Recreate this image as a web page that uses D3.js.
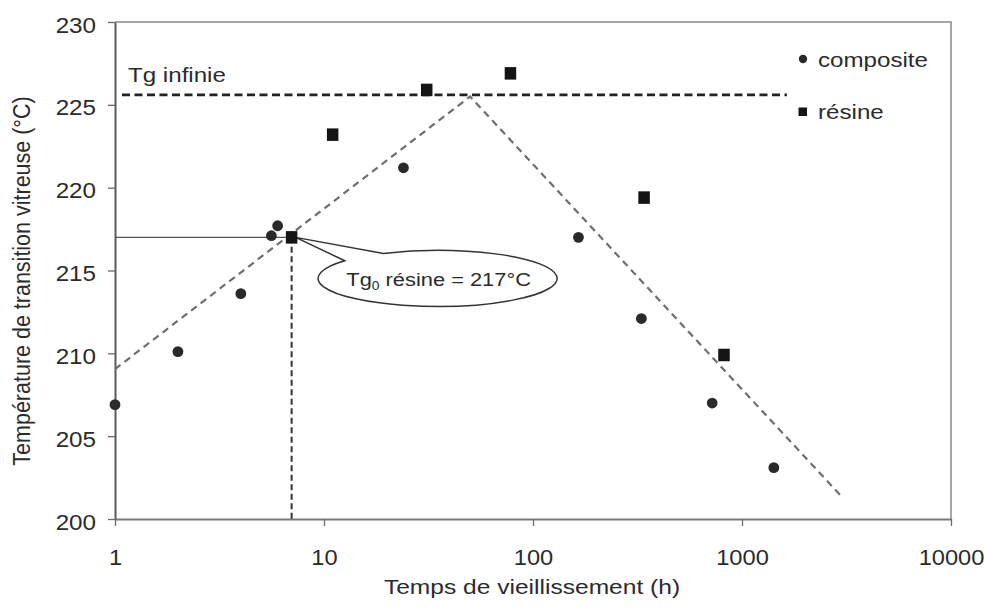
<!DOCTYPE html>
<html>
<head>
<meta charset="utf-8">
<script src="https://cdn.jsdelivr.net/npm/d3@7"></script>
<style>
  body { margin: 0; background: #fff; }
  svg { display: block; font-family: "Liberation Sans", Arial, Helvetica, sans-serif; }
</style>
</head>
<body>
<svg id="chart" width="984" height="610"></svg>
<script>
// Glass transition temperature vs. ageing time (log scale)
const compositeHours = [1, 2, 4, 5.6, 6, 24, 165, 330, 720, 1420];
const compositeTg    = [206.9, 210.1, 213.6, 217.1, 217.7, 221.2, 217.0, 212.1, 207.0, 203.1];

const resineHours = [7, 11, 31, 78, 340, 820];
const resineTg    = [217, 223.2, 225.9, 226.9, 219.4, 209.9];

// Plateau value and its drawn span
const tgInfinie = 225.6;
const tgInfinieHours = [1.08, 1640];

// Rising / falling guide line
const trendHours = [1, 50, 2950];
const trendTg    = [209.05, 225.5, 201.45];

// Initial resin Tg marker
const tg0Hours = 7;
const tg0Resine = 217;

const yTicks = [200, 205, 210, 215, 220, 225, 230];
const xTicks = [1, 10, 100, 1000, 10000];
const xTickLabels = ["1", "10", "100", "1000", "10000"];

const seriesNames = ["composite", "résine"];

const W = 984, H = 610;
const plot = { left: 115, top: 22, right: 951, bottom: 519 };
const textColor = "#2b2b2b";
const SX = 1.15; // horizontal glyph stretch of the typeface

const svg = d3.select("#chart");

const x = d3.scaleLog().domain([1, 10000]).range([plot.left, plot.right]);
const y = d3.scaleLinear().domain([200, 230]).range([plot.bottom, plot.top]);

function label(parent, px, py, txt, size, anchor, sx) {
  return parent.append("text")
    .attr("transform", `translate(${px},${py}) scale(${sx === undefined ? SX : sx},1)`)
    .attr("text-anchor", anchor || "start")
    .attr("font-size", size)
    .attr("fill", textColor)
    .text(txt);
}

// Frame (top and right edges)
svg.append("path")
  .attr("d", `M${plot.left},${plot.top}H${plot.right}V${plot.bottom}`)
  .attr("fill", "none")
  .attr("stroke", "#8a8a8a")
  .attr("stroke-width", 1.5);

// Y axis
const yAxis = svg.append("g")
  .attr("transform", `translate(${plot.left},0)`)
  .call(d3.axisLeft(y).tickValues(yTicks).tickSize(7).tickSizeOuter(0).tickFormat(d3.format("d")));
yAxis.select(".domain").attr("stroke", "#5a5a5a").attr("stroke-width", 2);
yAxis.selectAll(".tick line").attr("stroke", "#6a6a6a").attr("stroke-width", 1.3);
yAxis.selectAll(".tick text")
  .attr("x", null).attr("dy", null)
  .attr("transform", `translate(-19,10) scale(1.1,1)`)
  .attr("font-size", 22)
  .attr("font-family", "Liberation Sans, Arial, sans-serif")
  .attr("fill", textColor);

// X axis
const xAxis = svg.append("g")
  .attr("transform", `translate(0,${plot.bottom})`)
  .call(d3.axisBottom(x).tickValues(xTicks).tickSize(7).tickSizeOuter(0)
    .tickFormat((d, i) => xTickLabels[i]));
xAxis.select(".domain").attr("stroke", "#7a7a7a").attr("stroke-width", 2);
xAxis.selectAll(".tick line").attr("stroke", "#6a6a6a").attr("stroke-width", 1.3);
xAxis.selectAll(".tick text")
  .attr("y", null).attr("dy", null)
  .attr("transform", `translate(0,46) scale(1.1,1)`)
  .attr("font-size", 21.5)
  .attr("font-family", "Liberation Sans, Arial, sans-serif")
  .attr("fill", textColor);

// Axis titles
label(svg, (plot.left + plot.right) / 2 - 1, 594, "Temps de vieillissement (h)", 21, "middle", 1.17);
svg.append("text")
  .attr("transform", `translate(30,281) rotate(-90) scale(1,1.15)`)
  .attr("text-anchor", "middle")
  .attr("font-size", 21.5)
  .attr("fill", textColor)
  .text("Température de transition vitreuse (°C)");

// Guide line (dashed, grey)
const line = d3.line().x(d => x(d[0])).y(d => y(d[1]));
svg.append("path")
  .datum(trendHours.map((h, i) => [h, trendTg[i]]))
  .attr("d", line)
  .attr("fill", "none")
  .attr("stroke", "#6e6e6e")
  .attr("stroke-width", 2.2)
  .attr("stroke-dasharray", "7,5");

// Tg infinie plateau
svg.append("path")
  .datum(tgInfinieHours.map(h => [h, tgInfinie]))
  .attr("d", line)
  .attr("fill", "none")
  .attr("stroke", "#222")
  .attr("stroke-width", 2.8)
  .attr("stroke-dasharray", "8,4.5");
label(svg, plot.left + 13, 82, "Tg infinie", 21, "start");

// Tg0 reference lines
svg.append("path")
  .datum([[1, tg0Resine], [tg0Hours, tg0Resine]])
  .attr("d", line)
  .attr("fill", "none")
  .attr("stroke", "#555")
  .attr("stroke-width", 1.2);
svg.append("path")
  .datum([[tg0Hours, tg0Resine], [tg0Hours, 200]])
  .attr("d", line)
  .attr("fill", "none")
  .attr("stroke", "#333")
  .attr("stroke-width", 2)
  .attr("stroke-dasharray", "6,3.5");

// Callout bubble pointing at Tg0
const tipX = x(tg0Hours) + 4, tipY = y(tg0Resine);
const cx = x(tg0Hours) + 146, cy = y(tg0Resine) + 41, rx = 119.5, ry = 28;
const a1 = -117 * Math.PI / 180, a2 = -141 * Math.PI / 180;
const p1 = [cx + rx * Math.cos(a1), cy + ry * Math.sin(a1)];
const p2 = [cx + rx * Math.cos(a2), cy + ry * Math.sin(a2)];
svg.append("path")
  .attr("d", `M${p2[0]},${p2[1]}L${tipX},${tipY}L${p1[0]},${p1[1]}A${rx},${ry} 0 1 1 ${p2[0]},${p2[1]}Z`)
  .attr("fill", "#fff")
  .attr("stroke", "#333")
  .attr("stroke-width", 1.5);
const callout = svg.append("text")
  .attr("transform", `translate(${cx + 1},${cy + 8}) scale(${SX},1)`)
  .attr("text-anchor", "middle")
  .attr("font-size", 19)
  .attr("fill", textColor);
callout.append("tspan").text("Tg");
callout.append("tspan").attr("font-size", 12).attr("dy", 4).text("0");
callout.append("tspan").attr("dy", -4).text(" résine = 217°C");

// Composite markers (circles)
svg.append("g").selectAll("circle")
  .data(compositeHours.map((h, i) => [h, compositeTg[i]]))
  .join("circle")
  .attr("cx", d => x(d[0]))
  .attr("cy", d => y(d[1]))
  .attr("r", 5.4)
  .attr("fill", "#2a2a2a");

// Resin markers (squares)
const sq = 11.5;
svg.append("g").selectAll("rect")
  .data(resineHours.map((h, i) => [h, resineTg[i]]))
  .join("rect")
  .attr("x", d => x(d[0]) - sq / 2)
  .attr("y", d => y(d[1]) - sq / 2 - 0.5)
  .attr("width", sq)
  .attr("height", sq + 1)
  .attr("fill", "#141414");

// Legend
const legend = svg.append("g");
legend.append("circle").attr("cx", 803).attr("cy", 59).attr("r", 4.2).attr("fill", "#2a2a2a");
label(legend, 818, 67, seriesNames[0], 21, "start");
legend.append("rect").attr("x", 798.5).attr("y", 107.5).attr("width", 8.5).attr("height", 8.5).attr("fill", "#141414");
label(legend, 818, 119, seriesNames[1], 21, "start");
</script>
</body>
</html>
